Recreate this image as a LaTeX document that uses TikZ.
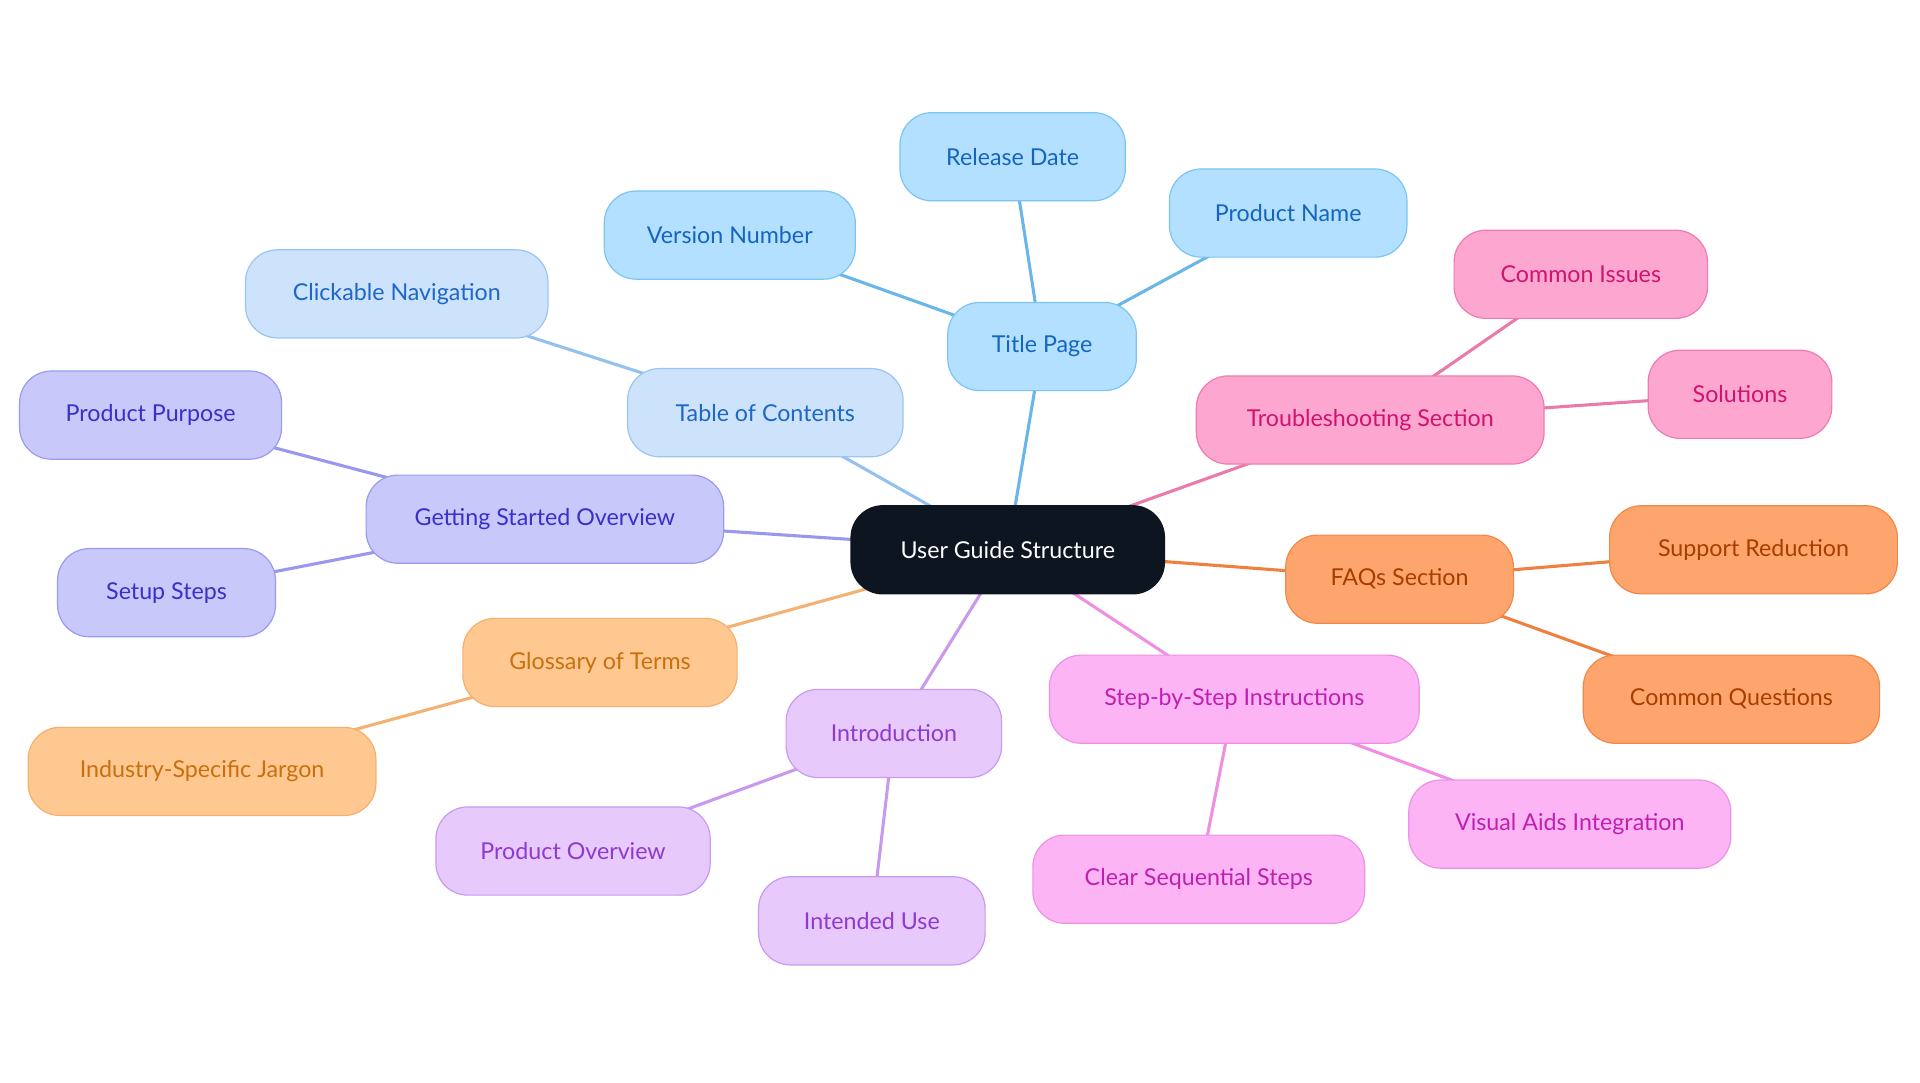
\documentclass[tikz,border=0pt]{standalone}
\usepackage{fontspec}
\setmainfont{Lato}
\usetikzlibrary{backgrounds}
\definecolor{bF}{HTML}{B3E0FF}\definecolor{bD}{HTML}{7CC4F2}\definecolor{bT}{HTML}{1565C0}\definecolor{bL}{HTML}{6AB6E8}
\definecolor{lF}{HTML}{CCE3FB}\definecolor{lD}{HTML}{9CC6F0}\definecolor{lT}{HTML}{1E66C8}\definecolor{lL}{HTML}{94C2EE}
\definecolor{iF}{HTML}{C8C8FB}\definecolor{iD}{HTML}{9A9AF0}\definecolor{iT}{HTML}{3B2FC9}\definecolor{iL}{HTML}{9898EE}
\definecolor{yF}{HTML}{FEC890}\definecolor{yD}{HTML}{F5B070}\definecolor{yT}{HTML}{C87010}\definecolor{yL}{HTML}{F3B274}
\definecolor{pF}{HTML}{E8C9FC}\definecolor{pD}{HTML}{C89AF0}\definecolor{pT}{HTML}{8E3AD0}\definecolor{pL}{HTML}{C999EE}
\definecolor{mF}{HTML}{FDB4F4}\definecolor{mD}{HTML}{EE90E6}\definecolor{mT}{HTML}{C020B0}\definecolor{mL}{HTML}{EF8EE3}
\definecolor{oF}{HTML}{FEA56D}\definecolor{oD}{HTML}{F0884A}\definecolor{oT}{HTML}{A83D00}\definecolor{oL}{HTML}{EE8040}
\definecolor{kF}{HTML}{FDA6D0}\definecolor{kD}{HTML}{EE7CB0}\definecolor{kT}{HTML}{D01270}\definecolor{kL}{HTML}{E97AAA}
\definecolor{root}{HTML}{0D1520}
\tikzset{
 x=0.05cm,y=-0.05cm,
 n/.style={draw,rounded corners=1.3cm,minimum height=3.6cm,inner sep=0pt,line width=1.4pt,font=\fontsize{27}{32}\selectfont},
 B/.style={n,fill=bF,draw=bD,text=bT},
 L/.style={n,fill=lF,draw=lD,text=lT},
 I/.style={n,fill=iF,draw=iD,text=iT},
 Y/.style={n,fill=yF,draw=yD,text=yT},
 P/.style={n,fill=pF,draw=pD,text=pT},
 M/.style={n,fill=mF,draw=mD,text=mT},
 O/.style={n,fill=oF,draw=oD,text=oT},
 K/.style={n,fill=kF,draw=kD,text=kT},
 e/.style={line width=3.6pt}
}
\begin{document}
\begin{tikzpicture}
\useasboundingbox (0,0) rectangle (1568,884);
\node[n,fill=root,draw=root,text=white,minimum width=12.8cm] (r) at (823,449) {User Guide Structure};
\node[B,minimum width=7.7cm] (tp) at (851,283) {Title Page};
\node[B,minimum width=9.2cm] (rd) at (827,128) {Release Date};
\node[B,minimum width=9.7cm] (pn) at (1052,174) {Product Name};
\node[B,minimum width=10.25cm] (vn) at (596,192) {Version Number};
\node[L,minimum width=11.25cm] (toc) at (625,337) {Table of Contents};
\node[L,minimum width=12.35cm] (cn) at (324,240) {Clickable Navigation};
\node[I,minimum width=14.6cm] (gs) at (445,424) {Getting Started Overview};
\node[I,minimum width=10.7cm] (pp) at (123,339) {Product Purpose};
\node[I,minimum width=8.9cm] (ss) at (136,484) {Setup Steps};
\node[Y,minimum width=11.2cm] (gl) at (490,541) {Glossary of Terms};
\node[Y,minimum width=14.2cm] (ij) at (165,630) {Industry-Specific Jargon};
\node[P,minimum width=8.8cm] (in) at (730,599) {Introduction};
\node[P,minimum width=11.2cm] (po) at (468,695) {Product Overview};
\node[P,minimum width=9.25cm] (iu) at (712,752) {Intended Use};
\node[M,minimum width=15.1cm] (sb) at (1008,571) {Step-by-Step Instructions};
\node[M,minimum width=13.55cm] (cs) at (979,718) {Clear Sequential Steps};
\node[M,minimum width=13.15cm] (va) at (1282,673) {Visual Aids Integration};
\node[O,minimum width=9.3cm] (fq) at (1143,473) {FAQs Section};
\node[O,minimum width=11.75cm] (sr) at (1432,449) {Support Reduction};
\node[O,minimum width=12.1cm] (cq) at (1414,571) {Common Questions};
\node[K,minimum width=14.2cm] (ts) at (1119,343) {Troubleshooting Section};
\node[K,minimum width=10.35cm] (ci) at (1291,224) {Common Issues};
\node[K,minimum width=7.5cm] (so) at (1421,322) {Solutions};
\begin{scope}[on background layer]
\draw[e,bL] (r.center)--(tp.center) (tp.center)--(rd.center) (tp.center)--(pn.center) (tp.center)--(vn.center);
\draw[e,lL] (r.center)--(toc.center) (toc.center)--(cn.center);
\draw[e,iL] (r.center)--(gs.center) (gs.center)--(pp.center) (gs.center)--(ss.center);
\draw[e,yL] (r.center)--(gl.center) (gl.center)--(ij.center);
\draw[e,pL] (r.center)--(in.center) (in.center)--(po.center) (in.center)--(iu.center);
\draw[e,mL] (r.center)--(sb.center) (sb.center)--(cs.center) (sb.center)--(va.center);
\draw[e,oL] (r.center)--(fq.center) (fq.center)--(sr.center) (fq.center)--(cq.center);
\draw[e,kL] (r.center)--(ts.center) (ts.center)--(ci.center) (ts.center)--(so.center);
\end{scope}
\end{tikzpicture}
\end{document}
